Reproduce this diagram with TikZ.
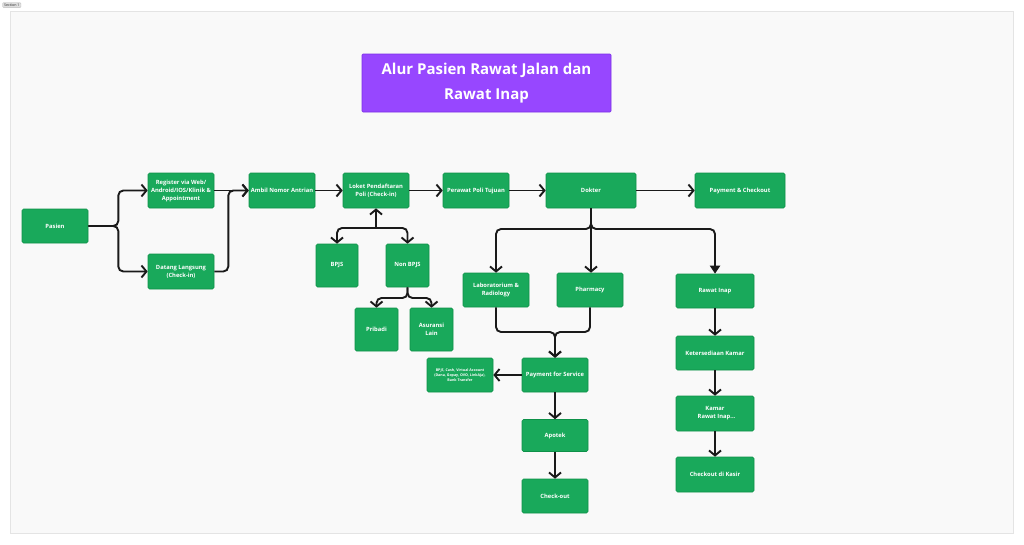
\documentclass[tikz,border=0pt]{standalone}
\usepackage{fontspec}
\setmainfont{Open Sans}
\newfontfamily\bfont{Open Sans}
\usetikzlibrary{arrows.meta}
\definecolor{boxgreen}{HTML}{19A95B}
\definecolor{boxline}{HTML}{0E9149}
\definecolor{titlepurple}{HTML}{9747FF}
\definecolor{titleline}{HTML}{7B30E6}
\definecolor{framefill}{HTML}{F9F9F9}
\definecolor{frameline}{HTML}{E4E4E4}
\definecolor{inkline}{HTML}{1A1A1A}
\tikzset{
  box/.style={draw=boxline, line width=0.6pt, fill=boxgreen, rounded corners=1.5pt, text=white,
    font=\bfont\bfseries\fontsize{5.8}{8}\selectfont, align=center, inner sep=1pt},
  wh/.style 2 args={minimum width=#1pt, minimum height=#2pt},
  flow/.style={draw=inkline, line width=1.9pt, rounded corners=5pt, -{Straight Barb[length=5pt,width=12pt]}},
  flowfill/.style={draw=inkline, line width=1.9pt, rounded corners=5pt, -{Triangle[length=8pt,width=10pt]}},
  plain/.style={draw=inkline, line width=1.9pt, rounded corners=5pt}
}
\begin{document}
\begin{tikzpicture}[x=1pt,y=-1pt]
\useasboundingbox (0,0) rectangle (1024,544);
\fill[white] (0,0) rectangle (1024,544);
% frame
\draw[frameline, fill=framefill, line width=0.6pt] (10,11) rectangle (1013,533);
\node[draw=gray!55, fill=gray!25, rounded corners=0.8pt, inner xsep=1.5pt, inner ysep=1pt, font=\fontsize{3.6}{4.4}\selectfont, text=black!85, anchor=north west] (sec) at (2.5,2.5) {Section 1};
% title
\node[draw=titleline, fill=titlepurple, line width=0.6pt, rounded corners=1pt, text=white,
  font=\bfont\bfseries\fontsize{15}{25}\selectfont, align=center, minimum width=249pt, minimum height=58pt, inner sep=0pt] (title) at (486.5,83) {Alur Pasien Rawat Jalan dan\\Rawat Inap};
% nodes
\node[box, wh={66}{34}] (pasien) at (55,226) {Pasien};
\node[box, wh={66}{35}] (register) at (181,190.5) {Register via Web/\\Android/IOS/Klinik \&\\Appointment};
\node[box, wh={66}{35}] (datang) at (181,271.5) {Datang Langsung\\(Check-in)};
\node[box, wh={66}{35}] (ambil) at (282,190.5) {Ambil Nomor Antrian};
\node[box, wh={66}{35}] (loket) at (376,190.5) {Loket Pendaftaran\\Poli (Check-in)};
\node[box, wh={66}{35}] (perawat) at (476,190.5) {Perawat Poli Tujuan};
\node[box, wh={90}{35}] (dokter) at (591,190.5) {Dokter};
\node[box, wh={90}{35}] (paycheck) at (740,190.5) {Payment \& Checkout};
\node[box, wh={42}{43}] (bpjs) at (337,265.5) {BPJS};
\node[box, wh={43}{43}] (nonbpjs) at (407.5,265.5) {Non BPJS};
\node[box, wh={43}{43}] (pribadi) at (376.5,329.5) {Pribadi};
\node[box, wh={43}{43}] (asuransi) at (431.5,329.5) {Asuransi\\Lain};
\node[box, wh={66}{34}] (lab) at (496,290) {Laboratorium \&\\Radiology};
\node[box, wh={66}{34}] (pharmacy) at (590,290) {Pharmacy};
\node[box, wh={78}{34}] (rawat) at (715,291) {Rawat Inap};
\node[box, wh={78}{34}] (keter) at (715,353) {Ketersediaan Kamar};
\node[box, wh={78}{35}] (kamar) at (715,413.5) {Kamar\\\ \ Rawat Inap...};
\node[box, wh={78}{35}] (kasir) at (715,474.5) {Checkout di Kasir};
\node[box, wh={66}{34}] (pfs) at (555,375) {Payment for Service};
\node[box, wh={66}{34}, font=\bfont\bfseries\fontsize{3.6}{4.8}\selectfont] (metode) at (460,375) {BPJS, Cash, Virtual Account\\(Dana, Gopay, OVO, LinkAja),\\Bank Transfer};
\node[box, wh={66}{32}] (apotek) at (555,435.5) {Apotek};
\node[box, wh={66}{34}] (checkout) at (555,496) {Check-out};
% junctions
\coordinate (jl) at (376,228);
\coordinate (jn) at (407.5,298);
\coordinate (jd) at (591,229);
\coordinate (jp) at (555,332);
% connectors
\draw[flow] (pasien.east) -- ++(30,0) |- (register.west);
\draw[flow] (pasien.east) -- ++(30,0) |- (datang.west);
\draw[flow] (register.east) -- (ambil.west);
\draw[flow] (datang.east) -- ++(14,0) |- (ambil.west);
\draw[flow] (ambil.east) -- (loket.west);
\draw[flow] (loket.east) -- (perawat.west);
\draw[flow] (perawat.east) -- (dokter.west);
\draw[flow] (dokter.east) -- (paycheck.west);
\draw[flow] (jl) -- (loket.south);
\draw[flow] (jl) -| (bpjs.north);
\draw[flow] (jl) -| (nonbpjs.north);
\draw[flow] (nonbpjs.south) -- (jn) -| (pribadi.north);
\draw[flow] (nonbpjs.south) -- (jn) -| (asuransi.north);
\draw[flow] (dokter.south) -- (jd) -| (lab.north);
\draw[flow] (dokter.south) -- (jd) -- (jd |- pharmacy.north);
\draw[flowfill] (dokter.south) -- (jd) -| (rawat.north);
\draw[flow] (lab.south) |- (jp) -- (pfs.north);
\draw[flow] (pharmacy.south) |- (jp) -- (pfs.north);
\draw[flow] (pfs.west) -- (metode.east);
\draw[flow] (pfs.south) -- (apotek.north);
\draw[flow] (apotek.south) -- (checkout.north);
\draw[flow] (rawat.south) -- (keter.north);
\draw[flow] (keter.south) -- (kamar.north);
\draw[flow] (kamar.south) -- (kasir.north);
\end{tikzpicture}
\end{document}
